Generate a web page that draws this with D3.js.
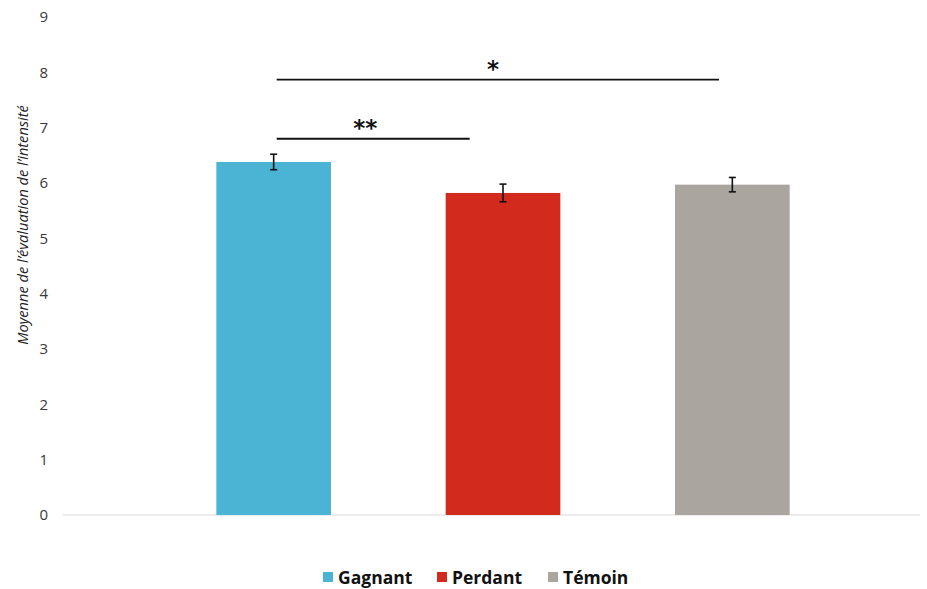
<!DOCTYPE html>
<html><head><meta charset="utf-8">
<script src="https://cdn.jsdelivr.net/npm/d3@7"></script>
<style>body{margin:0;background:#fff;} svg{display:block;}</style>
</head><body><svg id="c" width="927" height="589"></svg>
<script>
const categories = ["Gagnant", "Perdant", "Témoin"];
const means = [6.38, 5.82, 5.97];
const errors = [0.14, 0.16, 0.13];
const colors = ["#4bb4d4", "#d22a1d", "#aba5a0"];
const yTicks = [0,1,2,3,4,5,6,7,8,9];
const sigBars = [
  {from: "Gagnant", to: "Témoin", level: 7.87, label: "*"},
  {from: "Gagnant", to: "Perdant", level: 6.8, label: "**"}
];
const yTitle = "Moyenne de l’évaluation de l’intensité";

const svg = d3.select("#c");
const font = "'Open Sans', 'Liberation Sans', sans-serif";
const y = d3.scaleLinear().domain([0, 9]).range([515, 17]);
const x = d3.scaleBand().domain(categories).range([159, 847]).paddingInner(0.5).paddingOuter(0.25);

// axis baseline
svg.append("line").attr("x1", 63).attr("x2", 920).attr("y1", y(0)).attr("y2", y(0))
  .attr("stroke", "#d9d9d9").attr("stroke-width", 1.2);

// y tick labels
const yAxis = d3.axisLeft(y).tickValues(yTicks).tickSize(0).tickPadding(0);
const ga = svg.append("g").attr("transform", "translate(48,0)").call(yAxis);
ga.select(".domain").remove();
ga.selectAll("text").attr("font-family", font).attr("font-size", 15).attr("fill", "#3a3a3a");

// y title
svg.append("text").attr("transform", `translate(28,225) rotate(-90)`)
  .attr("text-anchor", "middle").attr("font-family", font).attr("font-style", "italic")
  .attr("font-size", 14.6).attr("fill", "#222").text(yTitle);

// bars
svg.selectAll("rect.bar").data(categories).join("rect").attr("class", "bar")
  .attr("x", d => x(d)).attr("width", x.bandwidth())
  .attr("y", (d,i) => y(means[i])).attr("height", (d,i) => y(0) - y(means[i]))
  .attr("fill", (d,i) => colors[i]);

// error bars
const eg = svg.append("g").attr("stroke", "#111").attr("stroke-width", 1.6);
categories.forEach((c, i) => {
  const cx = x(c) + x.bandwidth()/2;
  eg.append("line").attr("x1", cx).attr("x2", cx).attr("y1", y(means[i]+errors[i])).attr("y2", y(means[i]-errors[i]));
  eg.append("line").attr("x1", cx-3.5).attr("x2", cx+3.5).attr("y1", y(means[i]+errors[i])).attr("y2", y(means[i]+errors[i]));
  eg.append("line").attr("x1", cx-3.5).attr("x2", cx+3.5).attr("y1", y(means[i]-errors[i])).attr("y2", y(means[i]-errors[i]));
});

// significance bars
sigBars.forEach(s => {
  const x1 = x(s.from) + x.bandwidth()/2 + 3;
  const x2 = s.to === "Perdant" ? x(s.to) + 24 : x(s.to) + 44;
  svg.append("line").attr("x1", x1).attr("x2", x2).attr("y1", y(s.level)).attr("y2", y(s.level))
    .attr("stroke", "#111").attr("stroke-width", 1.8);
  svg.append("text").attr("x", s.label === "*" ? 493 : (x1+x2)/2 - 8).attr("y", y(s.level) - 3)
    .attr("text-anchor", "middle").attr("font-family", "'DejaVu Sans', sans-serif")
    .attr("font-weight", "bold").attr("font-size", 23).attr("fill", "#111").text(s.label);
});

// legend
const legX = [323, 437, 548];
const lg = svg.append("g");
categories.forEach((c, i) => {
  lg.append("rect").attr("x", legX[i]).attr("y", 572).attr("width", 10).attr("height", 10).attr("fill", colors[i]);
  lg.append("text").attr("x", legX[i] + 15).attr("y", 584).attr("font-family", font)
    .attr("font-weight", "bold").attr("font-size", 17.5).attr("fill", "#111").text(c);
});
</script></body></html>
